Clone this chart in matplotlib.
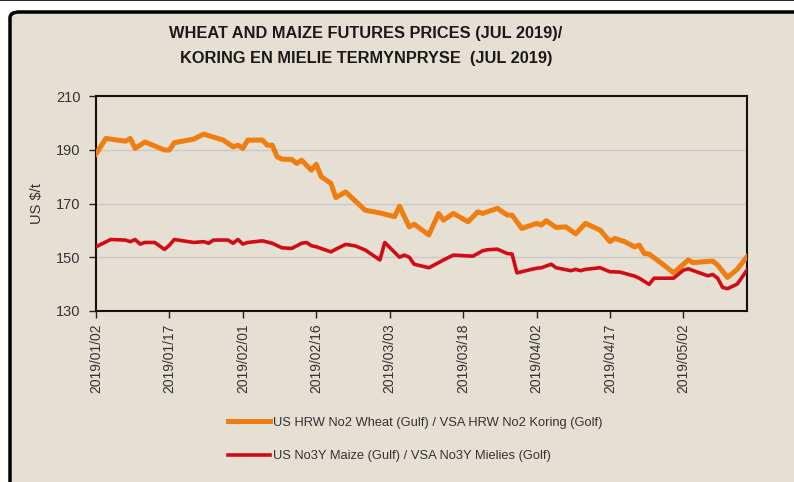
import numpy as np
import matplotlib.pyplot as plt
import matplotlib.dates as mdates
from matplotlib.patches import FancyBboxPatch
from matplotlib.lines import Line2D

plt.rcParams['font.family'] = ['Liberation Sans', 'DejaVu Sans']

# Wheat futures (US$/t)
wheat_dates = ["2019-01-02", "2019-01-04", "2019-01-08", "2019-01-09", "2019-01-10", "2019-01-12",
               "2019-01-16", "2019-01-17", "2019-01-18", "2019-01-22", "2019-01-24", "2019-01-28",
               "2019-01-30", "2019-01-31", "2019-02-01", "2019-02-02", "2019-02-05", "2019-02-06",
               "2019-02-07", "2019-02-08", "2019-02-09", "2019-02-11", "2019-02-12", "2019-02-13",
               "2019-02-15", "2019-02-16", "2019-02-17", "2019-02-19", "2019-02-20", "2019-02-22",
               "2019-02-26", "2019-03-01", "2019-03-04", "2019-03-05", "2019-03-07", "2019-03-08",
               "2019-03-11", "2019-03-13", "2019-03-14", "2019-03-16", "2019-03-19", "2019-03-21",
               "2019-03-22", "2019-03-25", "2019-03-27", "2019-03-28", "2019-03-30", "2019-04-02",
               "2019-04-03", "2019-04-04", "2019-04-06", "2019-04-08", "2019-04-10", "2019-04-12",
               "2019-04-15", "2019-04-17", "2019-04-18", "2019-04-20", "2019-04-22", "2019-04-23",
               "2019-04-24", "2019-04-25", "2019-04-28", "2019-04-30", "2019-05-03", "2019-05-04",
               "2019-05-08", "2019-05-09", "2019-05-11", "2019-05-13", "2019-05-15"]
wheat = [188.4, 194.2, 193.2, 194.2, 190.5, 192.9,
         189.9, 189.9, 192.6, 194.0, 195.8, 193.6,
         191.1, 191.7, 190.5, 193.6, 193.6, 191.7,
         191.7, 187.4, 186.5, 186.4, 184.9, 186.1,
         182.4, 184.6, 180.0, 177.5, 172.2, 174.3,
         167.5, 166.5, 165.1, 169.0, 161.3, 162.3,
         158.3, 166.3, 163.8, 166.3, 163.2, 166.9,
         166.3, 168.2, 165.7, 165.7, 160.7, 162.6,
         162.0, 163.6, 161.1, 161.3, 158.7, 162.6,
         160.1, 155.8, 157.0, 155.8, 153.9, 154.5,
         151.4, 151.2, 147.1, 144.2, 149.0, 148.0,
         148.6, 147.1, 142.5, 145.5, 150.2]

# Maize futures (US$/t)
maize_dates = ["2019-01-02", "2019-01-05", "2019-01-08", "2019-01-09", "2019-01-10", "2019-01-11",
               "2019-01-12", "2019-01-14", "2019-01-16", "2019-01-17", "2019-01-18", "2019-01-22",
               "2019-01-24", "2019-01-25", "2019-01-26", "2019-01-29", "2019-01-30", "2019-01-31",
               "2019-02-01", "2019-02-02", "2019-02-05", "2019-02-07", "2019-02-09", "2019-02-11",
               "2019-02-13", "2019-02-14", "2019-02-15", "2019-02-16", "2019-02-19", "2019-02-20",
               "2019-02-22", "2019-02-24", "2019-02-26", "2019-03-01", "2019-03-02", "2019-03-05",
               "2019-03-06", "2019-03-07", "2019-03-08", "2019-03-11", "2019-03-13", "2019-03-14",
               "2019-03-16", "2019-03-20", "2019-03-22", "2019-03-23", "2019-03-25", "2019-03-27",
               "2019-03-28", "2019-03-29", "2019-04-01", "2019-04-02", "2019-04-03", "2019-04-05",
               "2019-04-06", "2019-04-09", "2019-04-10", "2019-04-11", "2019-04-12", "2019-04-15",
               "2019-04-17", "2019-04-19", "2019-04-22", "2019-04-23", "2019-04-25", "2019-04-26",
               "2019-04-30", "2019-05-02", "2019-05-03", "2019-05-07", "2019-05-08", "2019-05-09",
               "2019-05-10", "2019-05-11", "2019-05-13", "2019-05-15"]
maize = [153.9, 156.6, 156.4, 155.8, 156.6, 154.9,
         155.5, 155.5, 152.9, 154.5, 156.6, 155.5,
         155.8, 155.2, 156.4, 156.4, 155.2, 156.6,
         154.9, 155.5, 156.1, 155.2, 153.5, 153.3,
         155.2, 155.5, 154.3, 153.9, 152.0, 153.0,
         154.8, 154.2, 152.7, 149.0, 155.5, 150.0,
         150.8, 150.0, 147.4, 146.1, 148.0, 149.0,
         150.8, 150.4, 152.4, 152.8, 153.0, 151.4,
         151.2, 144.2, 145.5, 145.9, 146.1, 147.4,
         146.1, 145.0, 145.5, 145.0, 145.5, 146.1,
         144.6, 144.5, 143.0, 142.2, 139.9, 142.2,
         142.2, 145.2, 145.7, 143.1, 143.6, 142.2,
         138.8, 138.3, 140.0, 145.2]

tick_dates = ["2019-01-02", "2019-01-17", "2019-02-01", "2019-02-16", "2019-03-03",
              "2019-03-18", "2019-04-02", "2019-04-17", "2019-05-02"]

wheat_label = "US HRW No2 Wheat (Gulf) / VSA HRW No2 Koring (Golf)"
maize_label = "US No3Y Maize (Gulf) / VSA No3Y Mielies (Golf)"

bg = '#e6e0d4'
orange = '#ef7d0f'
red = '#d20c14'

fig = plt.figure(figsize=(7.94, 4.82), dpi=100, facecolor='white')

# outer frame
frame = FancyBboxPatch((10 / 794, -0.1), 1.2, 1 - 12 / 482 + 0.1,
                       boxstyle='round,pad=0,rounding_size=0.012',
                       transform=fig.transFigure, facecolor=bg,
                       edgecolor='black', linewidth=2.5, zorder=-5)
fig.add_artist(frame)
fig.add_artist(Line2D([0, 1], [0.999, 0.999], transform=fig.transFigure, color='black', lw=1.2))

ax = fig.add_axes([96 / 794, 1 - 311 / 482, (747 - 96) / 794, (311 - 96) / 482])
ax.set_zorder(2)
ax.set_facecolor(bg)

wd = np.array(wheat_dates, dtype='datetime64[D]')
md = np.array(maize_dates, dtype='datetime64[D]')
ax.plot(wd, wheat, color=orange, lw=3.6, solid_joinstyle='round', label=wheat_label, zorder=3)
ax.plot(md, maize, color=red, lw=2.6, solid_joinstyle='round', label=maize_label, zorder=3)

ax.set_ylim(130, 210)
ax.set_yticks([130, 150, 170, 190, 210])
ax.set_xlim(np.datetime64('2019-01-02'), np.datetime64('2019-05-15'))
ax.set_xticks(np.array(tick_dates, dtype='datetime64[D]'))
ax.xaxis.set_major_formatter(mdates.DateFormatter('%Y/%m/%d'))
for y in [150, 170, 190]:
    ax.axhline(y, color='#c9c9c9', lw=1.0, zorder=1)

for s in ax.spines.values():
    s.set_linewidth(1.5)
    s.set_color('#111111')
ax.tick_params(axis='both', direction='out', length=5, width=1, color='#222222',
               labelcolor='#333333', labelsize=10.5)
ax.tick_params(axis='y', pad=6)
ax.tick_params(axis='x', labelrotation=90, pad=4, labelsize=10)
ax.set_ylabel('US $/t', fontsize=10.5, color='#333333', labelpad=9)

fig.text(0.461, 0.931, 'WHEAT AND MAIZE FUTURES PRICES (JUL 2019)/', ha='center', va='center',
         fontsize=11.8, fontweight='bold', color='#1a1a1a')
fig.text(0.461, 0.879, 'KORING EN MIELIE TERMYNPRYSE  (JUL 2019)', ha='center', va='center',
         fontsize=11.8, fontweight='bold', color='#1a1a1a')

leg = fig.legend(loc='upper left', bbox_to_anchor=(216 / 794, 1 - 405 / 482), frameon=False,
                 fontsize=9.3, handlelength=3.3, handletextpad=0.2, labelspacing=1.65,
                 labelcolor='#333333')

fig.savefig('out.png', dpi=100, facecolor='white')
